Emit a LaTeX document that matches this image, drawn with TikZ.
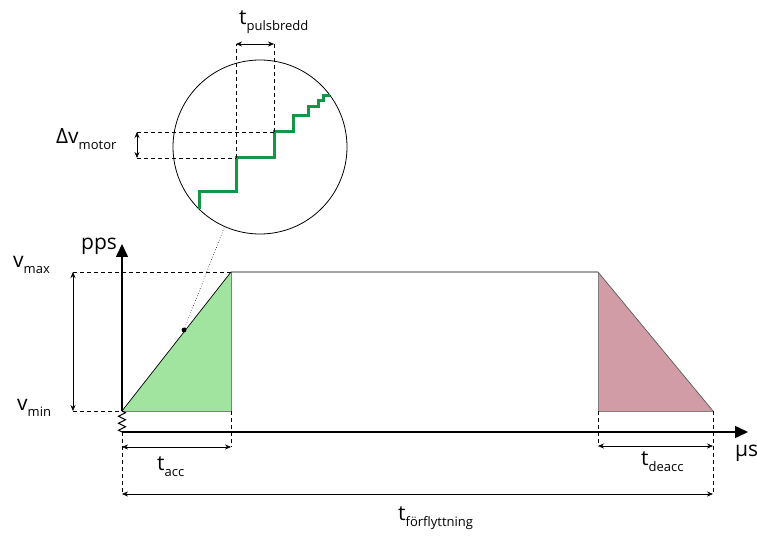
\documentclass[tikz,border=0pt]{standalone}
\usepackage{fontspec}
\setmainfont{Open Sans}
\usepackage{tikz}
\usetikzlibrary{arrows.meta,positioning,calc,decorations.pathmorphing}
\definecolor{stairgreen}{RGB}{20,150,70}
\definecolor{accgreen}{RGB}{160,228,160}
\definecolor{decrose}{RGB}{210,156,166}
\tikzset{
    axis/.style={
        -{Triangle[length=13pt,width=12pt]},
        line width=1.5pt
    },
    dimline/.style={
        {Stealth[length=6pt,width=5pt]}-{Stealth[length=6pt,width=5pt]},
        line width=0.6pt
    },
    guide/.style={
        line width=0.6pt,
        dash pattern=on 4pt off 3pt
    },
    lbl/.style={
        inner sep=0pt,
        anchor=base west,
        font=\fontsize{21}{21}\selectfont
    },
    stair/.style={
        stairgreen,
        line width=3pt
    }
}
\newcommand{\sublab}[2]{#1\raisebox{-6pt}{\fontsize{13}{13}\selectfont #2}}

\begin{document}
\begin{tikzpicture}[x=1pt,y=-1pt]
        \useasboundingbox (0,0) rectangle (757,537);
        % profile corners
        \coordinate (orig) at (122,432);
        \coordinate (vmin) at (122,411);
        \coordinate (acctop) at (231,272);
        \coordinate (accbot) at (231,411);
        \coordinate (dectop) at (598,272);
        \coordinate (decbot) at (598,411);
        \coordinate (stop) at (713,411);
        \coordinate (ytip) at (122,244);
        \coordinate (xtip) at (748,432);
        \coordinate (zoompt) at (184,330);
        % filled ramps
        \fill[accgreen] (vmin) -- (acctop) -- (accbot) -- cycle;
        \fill[decrose] (dectop) -- (decbot) -- (stop) -- cycle;
        \draw[gray, line width=0.6pt] (acctop) -- (accbot) -- (vmin);
        \draw[gray, line width=0.6pt] (dectop) -- (decbot) -- (stop);
        \draw[line width=0.7pt] (vmin) -- (acctop) -- (dectop);
        \draw[gray!70!black, line width=0.7pt] (dectop) -- (stop);
        % axes
        \draw[line width=1.1pt, decorate, decoration={zigzag, segment length=7pt, amplitude=3.5pt}] (vmin) -- (orig);
        \draw[axis] (vmin) -- (ytip);
        \draw[axis] (orig) -- (xtip);
        \node[lbl] (pps) at (81,250) {pps};
        \node[lbl] (mus) at (735,456) {µs};
        % speed levels
        \coordinate (vmaxl) at (73,272);
        \coordinate (vminl) at (73,411);
        \draw[guide] (vmaxl) -- (acctop);
        \draw[guide] (vminl) -- (vmin);
        \draw[dimline] (vmaxl) -- (vminl);
        \node[lbl] (vmaxlab) at (13,267) {\sublab{v}{max}};
        \node[lbl] (vminlab) at (17,410) {\sublab{v}{min}};
        % time spans
        \coordinate (acca) at (122,447);
        \coordinate (accb) at (231,447);
        \coordinate (deca) at (598,446);
        \coordinate (decb) at (713,446);
        \coordinate (tota) at (122,494);
        \coordinate (totb) at (713,494);
        \draw[guide] (accbot) -- (accb);
        \draw[guide] (orig) -- (tota);
        \draw[guide] (decbot) -- (deca);
        \draw[guide] (stop) -- (totb);
        \draw[dimline] (acca) -- (accb);
        \draw[dimline] (deca) -- (decb);
        \draw[dimline] (tota) -- (totb);
        \node[lbl] (taccl) at (157,470) {\sublab{t}{acc}};
        \node[lbl] (tdecl) at (641,465) {\sublab{t}{deacc}};
        \node[lbl] (totl) at (398,520) {\sublab{t}{förflyttning}};
        % zoomed steps
        \node[circle, draw, line width=0.8pt, minimum size=174pt, inner sep=0pt] (lens) at (260,147) {};
        \fill (zoompt) circle (2.4pt);
        \draw[dotted, line width=0.6pt] (zoompt) -- (lens.246);
        \draw[stair] (199,209) -- (199,192) -- (236,192) -- (236,158) -- (274,158) -- (274,132)
            -- (293,132) -- (293,116) -- (308,116) -- (308,107) -- (318,107) -- (318,101)
            -- (323,101) -- (323,96) -- (330,96);
        \coordinate (stepa) at (236,158);
        \coordinate (stepb) at (274,132);
        \coordinate (pwa) at (236,44);
        \coordinate (pwb) at (274,44);
        \coordinate (dva) at (137,132);
        \coordinate (dvb) at (137,158);
        \draw[guide] (stepa) -- (pwa);
        \draw[guide] (stepb) -- (pwb);
        \draw[guide] (dva) -- (stepb);
        \draw[guide] (dvb) -- (stepa);
        \draw[dimline] (pwa) -- (pwb);
        \draw[dimline] (dva) -- (dvb);
        \node[lbl] (pwl) at (239,25) {\sublab{t}{pulsbredd}};
        \node[lbl] (dvl) at (56,144) {\sublab{Δv}{motor}};
    \end{tikzpicture}
\end{document}
